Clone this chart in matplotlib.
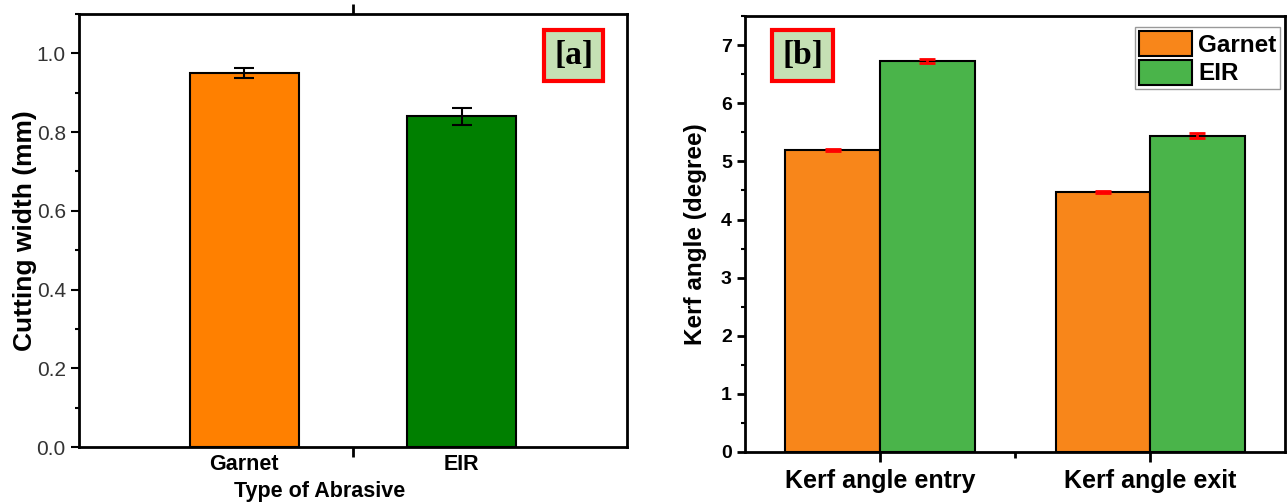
import numpy as np
import matplotlib.pyplot as plt
from matplotlib.ticker import MultipleLocator, FixedLocator

plt.rcParams['font.family'] = ['Liberation Sans', 'DejaVu Sans']

# panel a data
abrasives = ["Garnet", "EIR"]
width_mm = [0.95, 0.84]
width_err = [0.012, 0.021]

# panel b data
kerf_groups = ["Kerf angle entry", "Kerf angle exit"]
garnet_angle = [5.20, 4.47]
eir_angle = [6.73, 5.44]
garnet_angle_err = [0.02, 0.02]
eir_angle_err = [0.03, 0.04]

fig = plt.figure(figsize=(12.88, 5.03), dpi=100)

# ── panel a ──
ax1 = fig.add_axes([0.0613, 0.1113, 0.4255, 0.861])
xa = np.arange(1, len(abrasives) + 1)
ax1.bar(xa, width_mm, width=0.5, color=["#FF8000", "#007F00"],
        edgecolor="black", linewidth=1.5, zorder=2)
ax1.errorbar(xa, width_mm, yerr=width_err, fmt="none", ecolor="black",
             elinewidth=1.5, capsize=7, capthick=1.5, zorder=3)
ax1.set_xlim(0.24, 2.76)
ax1.set_ylim(0, 1.1)
ax1.yaxis.set_minor_locator(MultipleLocator(0.1))
ax1.set_yticks([0, 0.2, 0.4, 0.6, 0.8, 1.0])
ax1.set_yticklabels(["0.0", "0.2", "0.4", "0.6", "0.8", "1.0"])
ax1.set_xticks(xa)
ax1.set_xticklabels(abrasives, fontsize=15.5, fontweight="bold")
ax1.xaxis.set_minor_locator(FixedLocator([1.5]))
ax1.tick_params(axis="x", which="major", length=0, pad=5)
ax1.tick_params(axis="x", which="minor", length=7, width=2, top=True, direction="out")
ax1.tick_params(axis="y", which="major", length=6, width=1.5, labelsize=15,
                labelcolor="#333333", direction="out")
ax1.tick_params(axis="y", which="minor", length=3, width=1.5, direction="out")
ax1.set_ylabel("Cutting width (mm)", fontsize=19, fontweight="bold", labelpad=0)
ax1.set_xlabel("Type of Abrasive", fontsize=15.5, fontweight="bold")
ax1.xaxis.set_label_coords(0.44, -0.078)
for s in ax1.spines.values():
    s.set_linewidth(2)
ax1.text(0.903, 0.905, "[a]", transform=ax1.transAxes, ha="center", va="center",
         fontsize=24, fontweight="bold", family="Liberation Serif",
         bbox=dict(boxstyle="square,pad=0.3", facecolor="#C5E0B4",
                   edgecolor="red", linewidth=3))

# ── panel b ──
ax2 = fig.add_axes([0.5784, 0.1014, 0.4193, 0.8666])
xb = np.arange(1, len(kerf_groups) + 1)
bw = 0.35
ax2.bar(xb - bw / 2, garnet_angle, width=bw, color="#F8861A",
        edgecolor="black", linewidth=1.5, label="Garnet", zorder=2)
ax2.bar(xb + bw / 2, eir_angle, width=bw, color="#4AB44A",
        edgecolor="black", linewidth=1.5, label="EIR", zorder=2)
ax2.errorbar(xb - bw / 2, garnet_angle, yerr=garnet_angle_err, fmt="none",
             ecolor="red", elinewidth=2, capsize=6, capthick=2, zorder=3)
ax2.errorbar(xb + bw / 2, eir_angle, yerr=eir_angle_err, fmt="none",
             ecolor="red", elinewidth=2, capsize=6, capthick=2, zorder=3)
ax2.set_xlim(0.5, 2.5)
ax2.set_ylim(0, 7.5)
ax2.yaxis.set_major_locator(MultipleLocator(1))
ax2.yaxis.set_minor_locator(MultipleLocator(0.5))
ax2.set_xticks(xb)
ax2.set_xticklabels(kerf_groups, fontsize=18, fontweight="bold")
ax2.xaxis.set_minor_locator(FixedLocator([1.5]))
ax2.tick_params(axis="x", which="major", length=7, width=2, direction="out", pad=5)
ax2.tick_params(axis="x", which="minor", length=4, width=2, direction="out")
ax2.tick_params(axis="y", which="major", length=6, width=2, labelsize=14, direction="out")
ax2.tick_params(axis="y", which="minor", length=3, width=1.5, direction="out")
for lab in ax2.get_yticklabels():
    lab.set_fontweight("bold")
ax2.set_ylabel("Kerf angle (degree)", fontsize=17.5, fontweight="bold", labelpad=10)
for s in ax2.spines.values():
    s.set_linewidth(2)
leg = ax2.legend(loc="upper right", bbox_to_anchor=(1.0, 0.985),
                 prop={"weight": "bold", "size": 17.5}, fancybox=False,
                 edgecolor="#999999", framealpha=1, handlelength=2.2,
                 handleheight=1.2, handletextpad=0.25, borderpad=0.15,
                 labelspacing=0.12, borderaxespad=0.2)
ax2.text(0.107, 0.91, "[b]", transform=ax2.transAxes, ha="center", va="center",
         fontsize=24, fontweight="bold", family="Liberation Serif",
         bbox=dict(boxstyle="square,pad=0.3", facecolor="#C5E0B4",
                   edgecolor="red", linewidth=3))

fig.savefig("out.png", dpi=100)
